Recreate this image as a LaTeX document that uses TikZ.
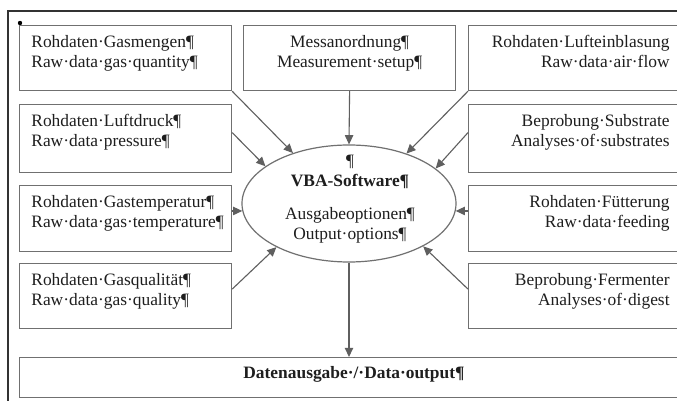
\documentclass[tikz,border=0pt]{standalone}
\usepackage{fontspec}
\setmainfont{Liberation Serif}
\usetikzlibrary{arrows.meta,shapes.geometric}
\definecolor{bordergray}{HTML}{707070}
\definecolor{framegray}{HTML}{333333}
\definecolor{txt}{HTML}{1E1E1E}
\newcommand\diagfont{\fontsize{8.7pt}{9.8pt}\selectfont}
\begin{document}
\begin{tikzpicture}[x=0.5pt,y=-0.5pt,
  box/.style={draw=bordergray,line width=0.6pt,rectangle,inner sep=0pt,anchor=north west,minimum width=106pt},
  widebox/.style={box,minimum width=120pt},
  lt/.style={inner sep=0pt,anchor=north west,align=left,font=\diagfont,text=txt},
  rt/.style={inner sep=0pt,anchor=north east,align=right,font=\diagfont,text=txt},
  ct/.style={inner sep=0pt,anchor=north,align=center,font=\diagfont,text=txt},
  arr/.style={draw=bordergray!85!black,line width=0.55pt,-{Triangle[length=4.6pt,width=4.2pt]}},
  frame/.style={draw=framegray,line width=0.6pt}
]
\useasboundingbox (0,0) rectangle (677,401);
\clip (0,0) rectangle (677,401);
\fill[white] (0,0) rectangle (677,401);

% outer frame (cut at right and bottom)
\draw[frame] (720,11) -| (8,430);
\coordinate (anc) at (20,23);
\fill[black] (anc) circle (1.1pt);

% left column
\node[box,minimum height=32.5pt] (gm) at (19,25) {};
\node[box,minimum height=34pt]   (ld) at (19,104) {};
\node[box,minimum height=33pt]   (gt) at (19,185) {};
\node[box,minimum height=32.5pt] (gq) at (19,263) {};
% middle
\node[box,minimum height=32.5pt] (ms) at (243,25) {};
% right column
\node[widebox,minimum height=32.5pt] (le) at (468,25) {};
\node[widebox,minimum height=34pt]   (bs) at (468,104) {};
\node[widebox,minimum height=33pt]   (fu) at (468,185) {};
\node[widebox,minimum height=32.5pt] (bf) at (468,263) {};
% output
\node[box,minimum width=340.5pt,minimum height=20pt] (da) at (19,357) {};

% texts
\node[lt] (gmt) at ([shift={(12,10)}]gm.north west) {Rohdaten·Gasmengen¶\\Raw·data·gas·quantity¶};
\node[lt] (ldt) at ([shift={(12,10)}]ld.north west) {Rohdaten·Luftdruck¶\\Raw·data·pressure¶};
\node[lt] (gtt) at ([shift={(12,10)}]gt.north west) {Rohdaten·Gastemperatur¶\\Raw·data·gas·temperature¶};
\node[lt] (gqt) at ([shift={(12,10)}]gq.north west) {Rohdaten·Gasqualität¶\\Raw·data·gas·quality¶};
\node[ct] (mst) at ([shift={(0,10)}]ms.north) {Messanordnung¶\\Measurement·setup¶};
\node[rt] (let) at ([shift={(202,10)}]le.north west) {Rohdaten·Lufteinblasung\\Raw·data·air·flow};
\node[rt] (bst) at ([shift={(202,10)}]bs.north west) {Beprobung·Substrate\\Analyses·of·substrates};
\node[rt] (fut) at ([shift={(202,10)}]fu.north west) {Rohdaten·Fütterung\\Raw·data·feeding};
\node[rt] (bft) at ([shift={(202,10)}]bf.north west) {Beprobung·Fermenter\\Analyses·of·digest};
\node[ct,font=\diagfont\bfseries] (dat) at (354,366) {Datenausgabe·/·Data·output¶};

% ellipse
\node[draw=bordergray,line width=0.6pt,ellipse,inner sep=0pt,minimum width=107pt,minimum height=58.5pt] (el) at (349,203.5) {};
\node[ct] (elt) at (350,155) {¶\\\textbf{VBA-Software¶}\\[7pt]Ausgabeoptionen¶\\Output·options¶};

% connectors
\draw[arr] (gm.south east) -- (el.138.6);
\draw[arr] ([yshift=3pt]ld.east) -- (el.156.3);
\draw[arr] (gt.east |- el.184) -- (el.184);
\draw[arr] ([yshift=3.5pt]gq.east) -- (el.211.3);
\draw[arr] (ms.south) -- (el.north);
\draw[arr] (le.south west) -- (el.41.3);
\draw[arr] ([yshift=3pt]bs.west) -- (el.22.7);
\draw[arr] (fu.west |- el.356) -- (el.356);
\draw[arr] ([yshift=3.5pt]bf.west) -- (el.330);
\draw[arr] (el.south) -- (el.south |- da.north);
\end{tikzpicture}
\end{document}
